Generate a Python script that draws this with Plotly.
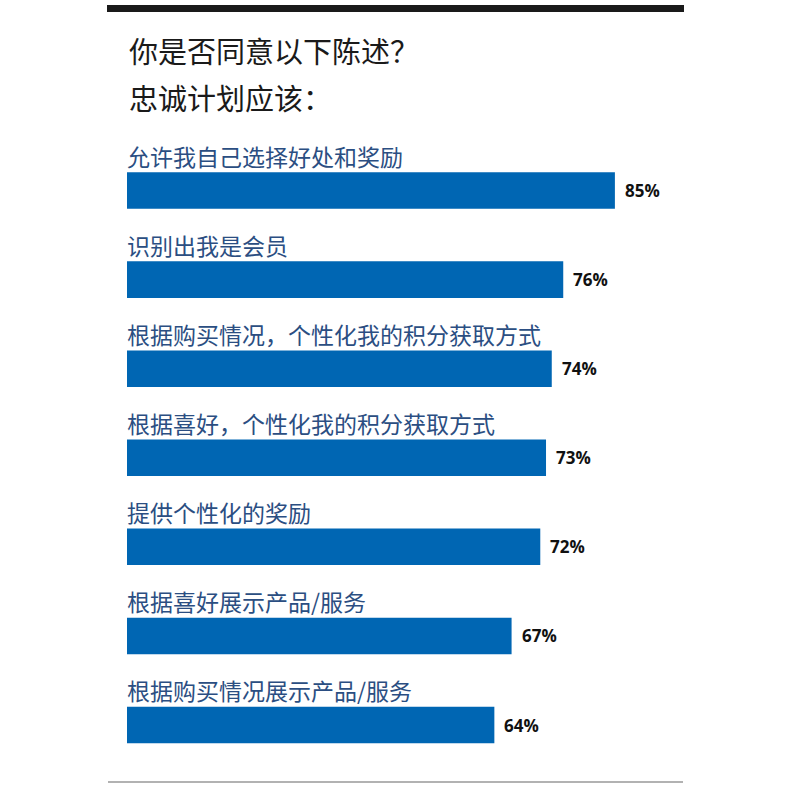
import plotly.graph_objects as go

categories = [
    "允许我自己选择好处和奖励",
    "识别出我是会员",
    "根据购买情况，个性化我的积分获取方式",
    "根据喜好，个性化我的积分获取方式",
    "提供个性化的奖励",
    "根据喜好展示产品/服务",
    "根据购买情况展示产品/服务",
]
values = [85, 76, 74, 73, 72, 67, 64]
title_lines = ["你是否同意以下陈述？", "忠诚计划应该："]

BAR = "#0066B3"
LABEL = "#2B4E82"
CJK = "Noto Sans CJK SC"

L, R, T, B = 127, 116, 146, 21
W, H = 800 - L - R, 800 - T - B

def px_x(p):
    return (p - L) / W

def px_y(p):
    return (800 - B - p) / H

fig = go.Figure(go.Bar(
    x=values, y=categories, orientation="h",
    marker=dict(color=BAR, line=dict(width=0)),
    width=0.41, hoverinfo="skip",
))

ann = []
for c, v in zip(categories, values):
    ann.append(dict(x=0, xref="x", y=c, yref="y", text=c, showarrow=False,
                    xanchor="left", yanchor="middle", yshift=35, xshift=-2,
                    font=dict(family=CJK, size=23, color=LABEL)))
    ann.append(dict(x=v, xref="x", y=c, yref="y", text=f"<b>{v}%</b>", showarrow=False,
                    xanchor="left", yanchor="middle", xshift=8,
                    font=dict(family="Open Sans", size=17, color="#111111")))
for i, t in enumerate(title_lines):
    ann.append(dict(x=px_x(127), xref="paper", y=px_y([50, 97][i]), yref="paper",
                    text=t, showarrow=False, xanchor="left", yanchor="middle",
                    font=dict(family=CJK, size=29, color="#1a1a1a")))

shapes = [
    dict(type="rect", xref="paper", yref="paper", x0=px_x(107), x1=px_x(684),
         y0=px_y(12), y1=px_y(5), fillcolor="#1a1a1a", line=dict(width=0)),
    dict(type="line", xref="paper", yref="paper", x0=px_x(108), x1=px_x(683),
         y0=px_y(782), y1=px_y(782), line=dict(color="#999999", width=1.5)),
]

fig.update_layout(
    width=800, height=800,
    margin=dict(l=L, r=R, t=T, b=B),
    paper_bgcolor="white", plot_bgcolor="white",
    showlegend=False,
    xaxis=dict(range=[0, W / 5.74], visible=False, fixedrange=True),
    yaxis=dict(autorange="reversed", visible=False, fixedrange=True),
    annotations=ann, shapes=shapes,
)

fig.write_html("out.html")
